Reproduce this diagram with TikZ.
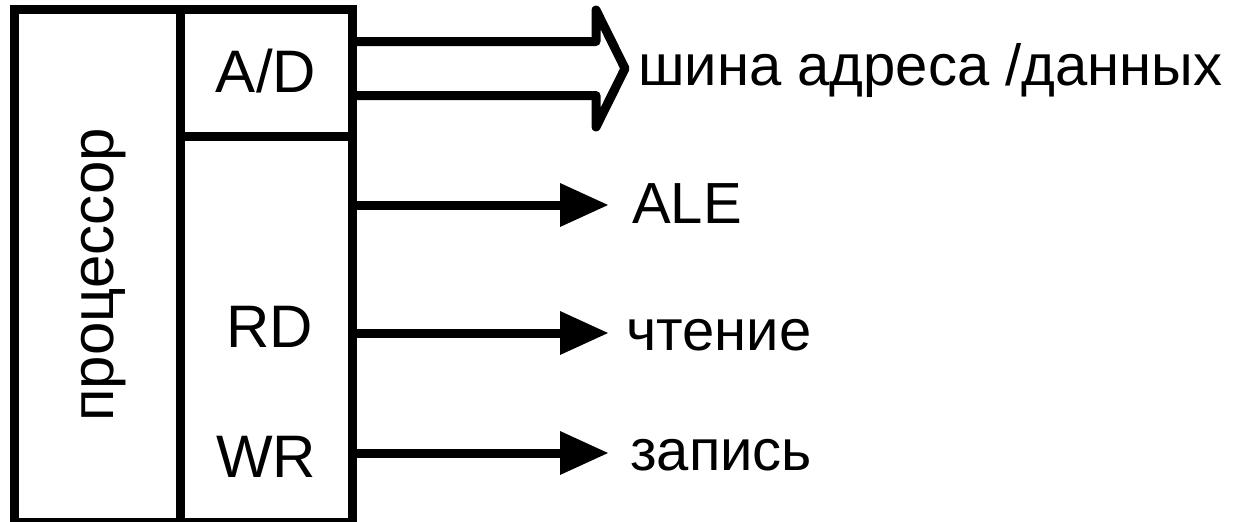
\documentclass[tikz,border=0pt]{standalone}
\usepackage{fontspec}
\setmainfont{Liberation Sans}
\usetikzlibrary{arrows.meta}
\begin{document}
\begin{tikzpicture}[x=1pt,y=-1pt,
  frame/.style={line width=9pt},
  lbl/.style={inner sep=0pt,anchor=base,font=\fontsize{60}{72}\selectfont},
  sig/.style={inner sep=0pt,anchor=base west,font=\fontsize{58}{70}\selectfont},
  wire/.style={line width=9pt,-{Triangle[length=48pt,width=44pt,line width=0pt]}},
  bus/.style={line width=9pt,line join=round}]
\useasboundingbox (0,0) rectangle (1235,522);

% processor block: name column and port column
\draw[frame] (14,9.5) rectangle (352,522);
\draw[frame] (180,9.5) -- (180,522);
\draw[frame] (180,136.5) -- (352,136.5);

\node[lbl,rotate=90] (cpu) at (113,275) {процессор};
\node[lbl] (ad) at (266,92) {A/D};
\node[lbl] (rd) at (270,347) {RD};
\node[lbl] (wr) at (266,477) {WR};

% signal names
\node[sig] (busl) at (638,85) {шина адреса /данных};
\node[sig] (alel) at (632,223) {ALE};
\node[sig] (rdl) at (626,350) {чтение};
\node[sig] (wrl) at (630,470) {запись};

% connector ends
\coordinate (bus-a) at (352,41.5);
\coordinate (bus-b) at (352,95.5);
\coordinate (bus-h1) at (596,41.5);
\coordinate (bus-h2) at (596,95.5);
\coordinate (bus-top) at (596,10);
\coordinate (bus-bot) at (596,127);
\coordinate (bus-tip) at (625,68.5);
\coordinate (ale-out) at (352,205);
\coordinate (ale-tip) at (608,205);
\coordinate (rd-out) at (352,333);
\coordinate (rd-tip) at (608,333);
\coordinate (wr-out) at (352,453);
\coordinate (wr-tip) at (608,453);

% address/data bus (hollow wide arrow)
\draw[bus] (bus-a) -- (bus-h1) -- (bus-top) -- (bus-tip) -- (bus-bot) -- (bus-h2) -- (bus-b);

% control lines
\draw[wire] (ale-out) -- (ale-tip);
\draw[wire] (rd-out) -- (rd-tip);
\draw[wire] (wr-out) -- (wr-tip);
\end{tikzpicture}
\end{document}
